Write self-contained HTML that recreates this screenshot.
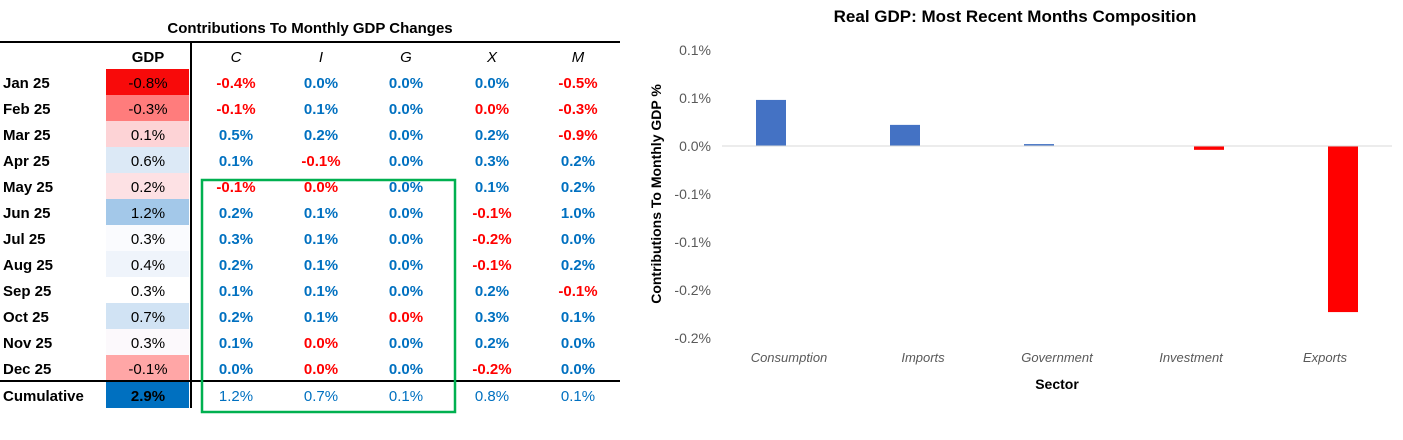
<!DOCTYPE html>
<html><head><meta charset="utf-8">
<style>
body{margin:0;background:#fff;width:1403px;height:435px;overflow:hidden;font-family:"Liberation Sans",Arial,sans-serif;}
svg text{font-family:"Liberation Sans",Arial,sans-serif;}
</style></head><body>
<svg id="s" width="1403" height="435" viewBox="0 0 1403 435" xmlns="http://www.w3.org/2000/svg">
<g id="table"></g>
<g id="chart"></g>
</svg>
<script>
// Table data
const months=["Jan 25","Feb 25","Mar 25","Apr 25","May 25","Jun 25","Jul 25","Aug 25","Sep 25","Oct 25","Nov 25","Dec 25"];
const gdpVals=["-0.8%","-0.3%","0.1%","0.6%","0.2%","1.2%","0.3%","0.4%","0.3%","0.7%","0.3%","-0.1%"];
const gdpFill=["#f80a0a","#ff7c7c","#fdd3d6","#dce9f6","#fde1e4","#a3c8e9","#fafbfe","#eff4fb","#ffffff","#d1e3f4","#fcf9fc","#ffa6a6"];
const colHeads=["C","I","G","X","M"];
const colC=["-0.4%","-0.1%","0.5%","0.1%","-0.1%","0.2%","0.3%","0.2%","0.1%","0.2%","0.1%","0.0%"];
const colI=["0.0%","0.1%","0.2%","-0.1%","0.0%","0.1%","0.1%","0.1%","0.1%","0.1%","0.0%","0.0%"];
const colG=["0.0%","0.0%","0.0%","0.0%","0.0%","0.0%","0.0%","0.0%","0.0%","0.0%","0.0%","0.0%"];
const colX=["0.0%","0.0%","0.2%","0.3%","0.1%","-0.1%","-0.2%","-0.1%","0.2%","0.3%","0.2%","-0.2%"];
const colM=["-0.5%","-0.3%","-0.9%","0.2%","0.2%","1.0%","0.0%","0.2%","-0.1%","0.1%","0.0%","0.0%"];
const redC=[1,1,0,0,1,0,0,0,0,0,0,0];
const redI=[0,0,0,1,1,0,0,0,0,0,1,1];
const redG=[0,0,0,0,0,0,0,0,0,1,0,0];
const redX=[0,1,0,0,0,1,1,1,0,0,0,1];
const redM=[1,1,1,0,0,0,0,0,1,0,0,0];
const cumVals=["1.2%","0.7%","0.1%","0.8%","0.1%"];
const cumGdp="2.9%";
// Chart data
const sectors=["Consumption","Imports","Government","Investment","Exports"];
const posSeries=[0.048,0.022,0.002,0,0];
const negSeries=[0,0,0,-0.004,-0.173];
const yTicks=[0.1,0.05,0,-0.05,-0.1,-0.15,-0.2];
const yTickLabels=["0.1%","0.1%","0.0%","-0.1%","-0.1%","-0.2%","-0.2%"];

const NS="http://www.w3.org/2000/svg";
function mk(parent,tag,attrs,txt){const e=document.createElementNS(NS,tag);for(const k in attrs)e.setAttribute(k,attrs[k]);if(txt!==undefined)e.textContent=txt;parent.appendChild(e);return e;}
const T=document.getElementById('table');
const BLUE="#0070c0",RED="#ff0000";
let e;
e=mk(T,'text',{x:310,y:33,'text-anchor':'middle','font-size':15,'font-weight':'bold',fill:'#000'},"Contributions To Monthly GDP Changes");


e=mk(T,'line',{x1:0,y1:42,x2:620,y2:42,stroke:'#000','stroke-width':2});


e=mk(T,'text',{x:148,y:62,'text-anchor':'middle','font-size':15,'font-weight':'bold'},"GDP");


const colX0=[236,321,406,492,578];
colHeads.forEach((h,i)=>{
  const t=mk(T,'text',{x:colX0[i],y:62,'text-anchor':'middle','font-size':15,'font-style':'italic'},h);
  
  
});
const cols=[colC,colI,colG,colX,colM],reds=[redC,redI,redG,redX,redM];
months.forEach((m,r)=>{
  const top=69+26*r, cy=top+19;
  const lab=mk(T,'text',{x:3,y:cy,'font-size':15,'font-weight':'bold'},m);
  
  
  const rc=mk(T,'rect',{x:106,y:top,width:83,height:26,fill:gdpFill[r]});
  
  
  const gv=mk(T,'text',{x:148,y:cy,'text-anchor':'middle','font-size':15},gdpVals[r]);
  
  
  cols.forEach((c,i)=>{
    const t=mk(T,'text',{x:colX0[i],y:cy,'text-anchor':'middle','font-size':15,'font-weight':'bold',fill:reds[i][r]?RED:BLUE},c[r]);
    
    
  });
});
e=mk(T,'line',{x1:0,y1:381,x2:620,y2:381,stroke:'#000','stroke-width':2});


e=mk(T,'text',{x:3,y:401,'font-size':15,'font-weight':'bold'},"Cumulative");


e=mk(T,'rect',{x:106,y:382,width:83,height:26,fill:'#0070c0'});


e=mk(T,'text',{x:148,y:401,'text-anchor':'middle','font-size':15,'font-weight':'bold'},cumGdp);


cumVals.forEach((v,i)=>{
  const t=mk(T,'text',{x:colX0[i],y:401,'text-anchor':'middle','font-size':15,fill:BLUE},v);
  
  
});
e=mk(T,'line',{x1:191,y1:42,x2:191,y2:408,stroke:'#000','stroke-width':2});


e=mk(T,'rect',{x:202,y:180,width:253,height:232,fill:'none',stroke:'#00b050','stroke-width':2.5});



// Chart
const C=document.getElementById('chart');
const y0=146, pxPer=48/0.05;
const yS=v=>y0-v*pxPer;
const catW=134, x0=722;
const xC=i=>x0+catW*(i+0.5);
e=mk(C,'text',{x:1015,y:22,'text-anchor':'middle','font-size':17,'font-weight':'bold'},"Real GDP: Most Recent Months Composition");


yTicks.forEach((v,i)=>{
  const t=mk(C,'text',{x:711,y:yS(v)+5,'text-anchor':'end','font-size':14,fill:'#595959'},yTickLabels[i]);
  
  
});
sectors.forEach((s,i)=>{
  const t=mk(C,'text',{x:xC(i),y:362,'text-anchor':'middle','font-size':13,'font-style':'italic',fill:'#595959'},s);
  
  
  if(posSeries[i]!==0){
    const b=mk(C,'rect',{x:xC(i)-18-15,y:yS(posSeries[i]),width:30,height:yS(0)-yS(posSeries[i]),fill:'#4472c4'});
    
    
  }
  if(negSeries[i]!==0){
    const b=mk(C,'rect',{x:xC(i)+18-15,y:yS(0),width:30,height:yS(negSeries[i])-yS(0),fill:'#ff0000'});
    
    
  }
});
e=mk(C,'line',{x1:x0,y1:yS(0),x2:x0+catW*5,y2:yS(0),stroke:'#d9d9d9','stroke-width':1});


e=mk(C,'text',{x:1057,y:389,'text-anchor':'middle','font-size':14,'font-weight':'bold'},"Sector");


e=mk(C,'text',{x:0,y:0,'text-anchor':'middle','font-size':14,'font-weight':'bold',transform:'translate(661,194) rotate(-90)'},"Contributions To Monthly GDP %");


</script>
</body></html>
